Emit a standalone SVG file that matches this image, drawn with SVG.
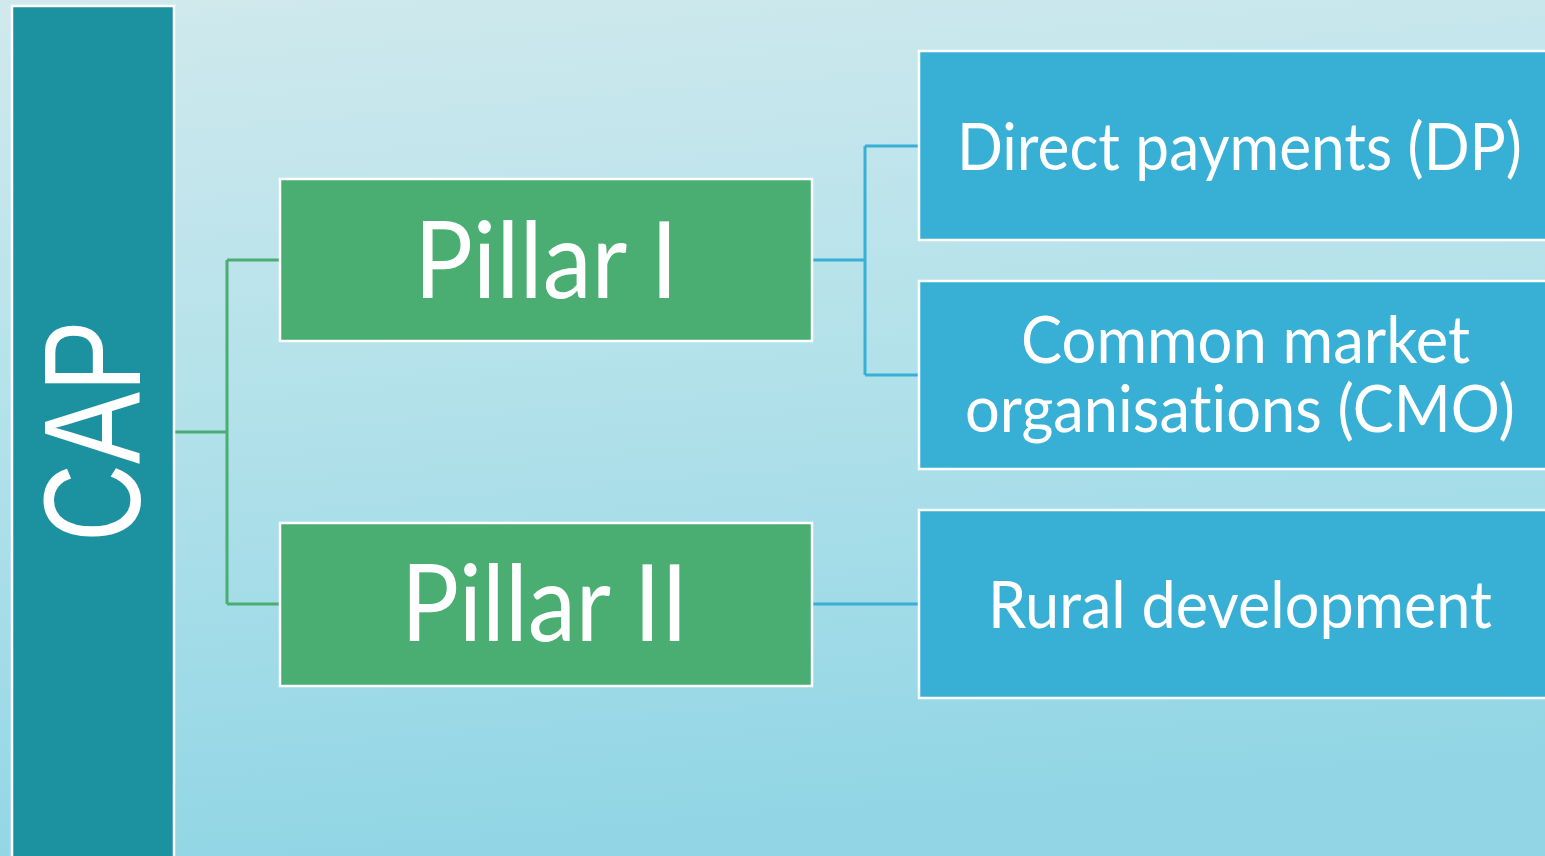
<svg xmlns="http://www.w3.org/2000/svg" width="1545" height="856" viewBox="0 0 1545 856">
<defs>
<linearGradient id="bg" x1="0" y1="0" x2="0.15" y2="1">
<stop offset="0" stop-color="#d0e9ed"/>
<stop offset="0.5" stop-color="#b2e1ea"/>
<stop offset="1" stop-color="#92d6e5"/>
</linearGradient>
<style>
.box{stroke:#ffffff;stroke-width:2.5}
.edge{fill:none;stroke:#ffffff;stroke-width:2.5}
.cap{fill:#1c91a0}
.pillar{fill:#4aad71}
.item{fill:#38afd4}
.t{fill:#ffffff;font-family:"Lato","Open Sans","Liberation Sans",sans-serif;font-variant-ligatures:none;font-feature-settings:"liga" 0,"clig" 0,"dlig" 0}
.big{font-size:106px}
.mid{font-size:61px}
.capt{fill:#ffffff;font-family:"Liberation Sans",Arial,sans-serif;font-size:138px}
.cg{fill:none;stroke:#4aad71;stroke-width:3}
.cb{fill:none;stroke:#38afd4;stroke-width:3}
</style>
</defs>
<rect width="1545" height="856" fill="url(#bg)"/>
<g id="connectors">
<path class="cg" d="M175,432 H227 M227,260 V604 M227,260 H280 M227,604 H280"/>
<path class="cb" d="M813,260 H865 M865,146 V375 M865,146 H919 M865,375 H919 M813,604 H919"/>
</g>
<g id="cap">
<rect class="cap" x="12" y="6" width="162" height="850"/>
<path class="edge" d="M12,856 V6 H174 V856"/>
<text class="capt" transform="translate(91,431) rotate(-90)" x="0" y="49" text-anchor="middle" textLength="222" lengthAdjust="spacingAndGlyphs">CAP</text>
</g>
<g id="pillar1">
<rect class="box pillar" x="280" y="179" width="532" height="162"/>
<text class="t big" x="414" y="298" textLength="264" lengthAdjust="spacingAndGlyphs">Pillar I</text>
</g>
<g id="pillar2">
<rect class="box pillar" x="280" y="523" width="532" height="163"/>
<text class="t big" x="401" y="641" textLength="287" lengthAdjust="spacingAndGlyphs">Pillar II</text>
</g>
<g id="dp">
<rect class="item" x="919" y="51" width="626" height="189"/>
<path class="edge" d="M1545,51 H919 V240 H1545"/>
<text class="t mid" transform="translate(957,170) scale(1,1.08)" x="0" y="0" textLength="565" lengthAdjust="spacingAndGlyphs">Direct payments (DP)</text>
</g>
<g id="cmo">
<rect class="item" x="919" y="281" width="626" height="188"/>
<path class="edge" d="M1545,281 H919 V469 H1545"/>
<text class="t mid" transform="translate(0,363) scale(1,1.08)"><tspan x="1021" y="0" textLength="449" lengthAdjust="spacingAndGlyphs">Common market</tspan><tspan x="965" y="63.9" textLength="550" lengthAdjust="spacingAndGlyphs">organisations (CMO)</tspan></text>
</g>
<g id="rd">
<rect class="item" x="919" y="510" width="626" height="188"/>
<path class="edge" d="M1545,510 H919 V698 H1545"/>
<text class="t mid" transform="translate(988,628) scale(1,1.08)" x="0" y="0" textLength="504" lengthAdjust="spacingAndGlyphs">Rural development</text>
</g>
</svg>
